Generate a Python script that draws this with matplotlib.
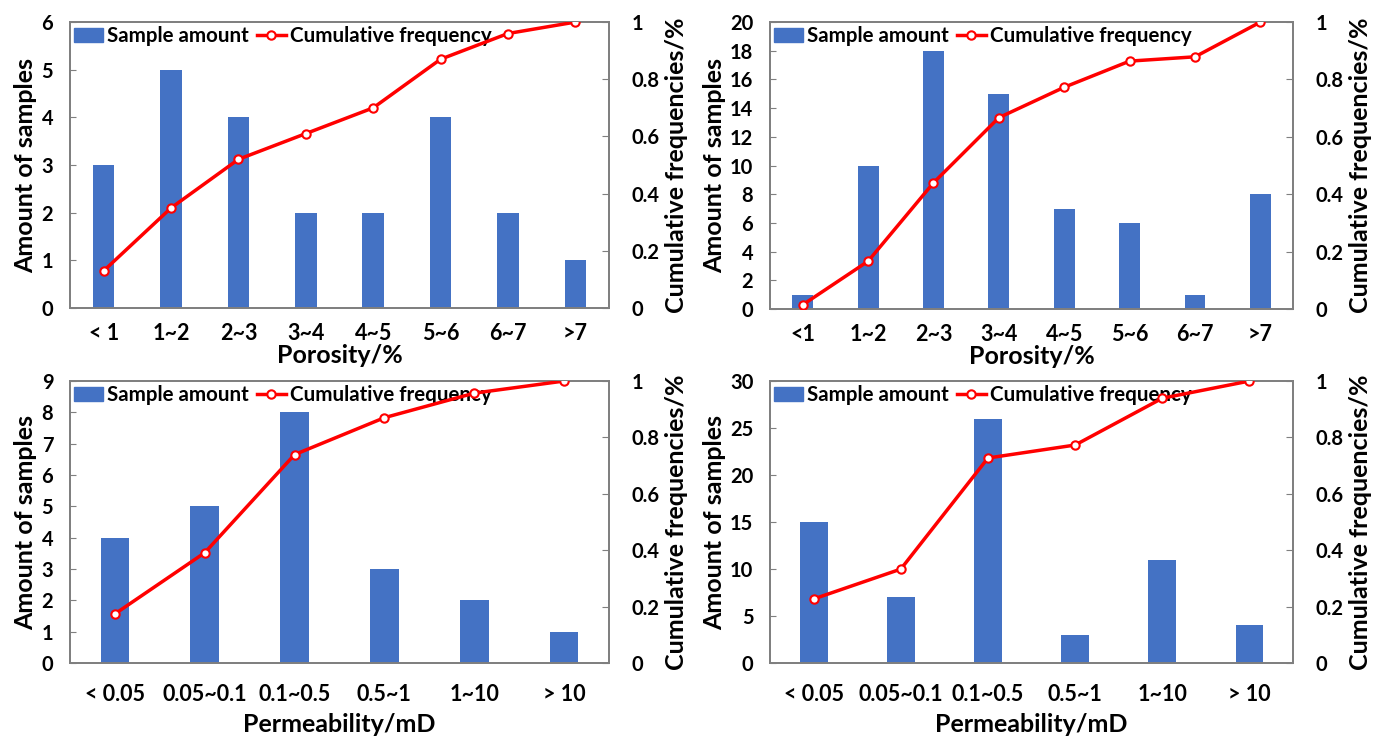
import matplotlib
matplotlib.use("Agg")
import matplotlib.pyplot as plt
from matplotlib.ticker import FuncFormatter, MultipleLocator
from matplotlib.lines import Line2D
from matplotlib.patches import Patch

plt.rcParams['font.family'] = ['Lato', 'DejaVu Sans']

# top-left: porosity, group A
poro_labels_a = ['< 1', '1~2', '2~3', '3~4', '4~5', '5~6', '6~7', '>7']
poro_counts_a = [3, 5, 4, 2, 2, 4, 2, 1]
poro_cum_a = [0.13, 0.35, 0.52, 0.61, 0.70, 0.87, 0.96, 1.0]

# top-right: porosity, group B
poro_labels_b = ['<1', '1~2', '2~3', '3~4', '4~5', '5~6', '6~7', '>7']
poro_counts_b = [1, 10, 18, 15, 7, 6, 1, 8]
poro_cum_b = [0.015, 0.167, 0.44, 0.667, 0.773, 0.864, 0.879, 1.0]

# bottom-left: permeability, group A
perm_labels = ['< 0.05', '0.05~0.1', '0.1~0.5', '0.5~1', '1~10', '> 10']
perm_counts_a = [4, 5, 8, 3, 2, 1]
perm_cum_a = [0.174, 0.391, 0.739, 0.87, 0.957, 1.0]

# bottom-right: permeability, group B
perm_counts_b = [15, 7, 26, 3, 11, 4]
perm_cum_b = [0.227, 0.333, 0.727, 0.773, 0.939, 1.0]

BAR_COLOR = '#4472C4'
LINE_COLOR = '#FF0000'
SPINE_COLOR = '#7f7f7f'


def draw_panel(rect, labels, counts, cum, ymax, ystep, xlabel, xpad, xlabelpad):
    ax = fig.add_axes(rect)
    x = list(range(len(labels)))
    ax.bar(x, counts, width=0.32, color=BAR_COLOR, zorder=2)
    ax.set_xlim(-0.5, len(labels) - 0.5)
    ax.set_ylim(0, ymax)
    ax.yaxis.set_major_locator(MultipleLocator(ystep))
    ax.set_xticks(x)
    ax.set_xticklabels(labels)
    ax.tick_params(axis='x', length=0, labelsize=15.5, pad=xpad)
    ax.tick_params(axis='y', direction='in', length=4, color=SPINE_COLOR,
                   labelsize=14.5, pad=12)
    ax.set_ylabel('Amount of samples', fontsize=18, fontweight='bold', labelpad=3)
    ax.set_xlabel(xlabel, fontsize=18, fontweight='bold', labelpad=xlabelpad)

    ax2 = ax.twinx()
    ax2.plot(x, cum, color=LINE_COLOR, lw=2.5, marker='o', ms=6,
             mfc='white', mec=LINE_COLOR, mew=1.5, zorder=3)
    ax2.set_ylim(0, 1)
    ax2.yaxis.set_major_locator(MultipleLocator(0.2))
    ax2.yaxis.set_major_formatter(FuncFormatter(lambda v, p: '%g' % round(v, 1)))
    ax2.tick_params(axis='y', direction='in', length=5, color=SPINE_COLOR,
                    labelsize=14.5, pad=16)
    ax2.set_ylabel('Cumulative frequencies/%', fontsize=18, fontweight='bold', labelpad=4)

    for a in (ax, ax2):
        for s in a.spines.values():
            s.set_color(SPINE_COLOR)
            s.set_linewidth(1.3)
        for t in a.get_xticklabels() + a.get_yticklabels():
            t.set_fontweight('bold')

    handles = [Patch(color=BAR_COLOR),
               Line2D([], [], color=LINE_COLOR, lw=2.5, marker='o', ms=6,
                      mfc='white', mec=LINE_COLOR, mew=1.5)]
    ax.legend(handles, ['Sample amount', 'Cumulative frequency'], loc='upper left',
              ncol=2, frameon=False, prop={'size': 14.8, 'weight': 'bold'},
              borderaxespad=0.05, handlelength=1.4, handletextpad=0.2,
              columnspacing=0.4, borderpad=0.15)
    return ax


fig = plt.figure(figsize=(13.8, 7.36), dpi=100)

draw_panel([0.0507, 0.5815, 0.3906, 0.3885], poro_labels_a, poro_counts_a,
           poro_cum_a, 6, 1, 'Porosity/%', 11, 0)
draw_panel([0.558, 0.580, 0.379, 0.390], poro_labels_b, poro_counts_b,
           poro_cum_b, 20, 2, 'Porosity/%', 11, 0)
draw_panel([0.0507, 0.0992, 0.3906, 0.3831], perm_labels, perm_counts_a,
           perm_cum_a, 9, 1, 'Permeability/mD', 15, 6)
draw_panel([0.558, 0.0992, 0.379, 0.3831], perm_labels, perm_counts_b,
           perm_cum_b, 30, 5, 'Permeability/mD', 15, 6)

fig.savefig('out.png', dpi=100)
